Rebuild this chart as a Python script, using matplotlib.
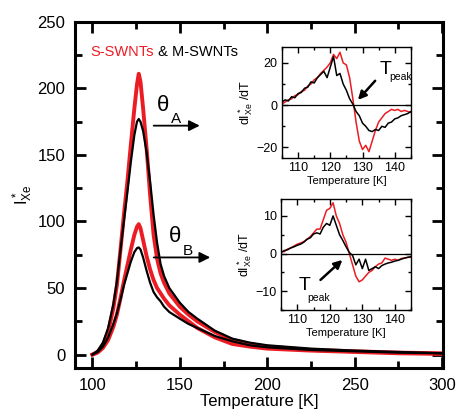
import numpy as np
import matplotlib
matplotlib.use("Agg")
import matplotlib.pyplot as plt
from matplotlib.ticker import MultipleLocator

plt.rcParams['font.family'] = ['Liberation Sans', 'DejaVu Sans']
plt.rcParams['mathtext.default'] = 'regular'

RED = "#ec1c24"

# основной график: температура и интенсивность
T_main = [100, 103, 106, 109, 112, 114, 116, 118, 120, 122, 124, 125.5, 126.5, 127.5,
          129, 131, 133, 135, 137, 139, 141, 144, 150, 155, 160, 170, 180, 190, 200,
          225, 250, 275, 300]
red_big = [0, 2, 7, 17, 35, 52, 78, 105, 130, 158, 185, 203, 211, 205,
           185, 155, 120, 90, 72, 61, 54, 46, 36, 30, 25, 17, 11, 8, 6,
           3.5, 2.5, 1.5, 1]
black_big = [0, 3, 9, 20, 38, 55, 78, 100, 122, 145, 165, 175, 177, 175,
             168, 152, 130, 105, 84, 68, 59, 50, 39, 32, 27, 18, 12, 9, 7,
             4.5, 3, 2, 1]
red_small = [0, 1.5, 5, 11, 21, 30, 42, 55, 67, 79, 90, 96, 98, 95,
             86, 74, 64, 56, 50, 46, 42, 37, 30, 25, 20, 13, 8, 6, 4.5,
             3, 2, 1, 0.5]
black_small = [0, 2, 6, 13, 23, 31, 41, 52, 61, 70, 77, 80, 80.5, 79,
               73, 63, 54, 47, 43, 40, 36, 32, 27, 23, 20, 14, 10, 7, 5.5,
               3.5, 2.5, 1.5, 1]

# вставки: производные dI/dT
T_ins = list(range(105, 146))
black_A = [1.5, 2.5, 2, 4, 3.5, 5.5, 6, 8, 8.5, 11, 10.5, 13, 14.5, 16, 13, 18, 23, 14, 15, 10,
           7, 3, 0.5, -3, -5, -8.5, -10, -12, -12.5, -11.5, -12, -10, -10.5, -8.5, -8, -6.5,
           -6, -5, -4.5, -4, -3]
red_A = [0.5, 1.5, 2.5, 3, 4.5, 5, 6.5, 7, 9, 10, 12, 13, 15, 16.5, 18, 20, 24, 22, 25, 20,
         19, 13, 3, -8, -17, -21, -19, -22, -17, -12, -8, -6, -4, -3, -2, -2.5,
         -2, -3, -2.5, -3, -3.5]
black_B = [0.3, 0.8, 1, 1.5, 1.8, 2.2, 2.5, 3, 3.8, 4.2, 5.2, 5.5, 5.2, 7, 8, 7.5, 10, 7.5, 5, 3.5,
           1.8, 0.3, -0.5, -3, -1.5, -4, -1.5, -4.5, -4, -3.5, -4, -3.2, -2.8, -2.5, -2.3, -2,
           -1.8, -1.5, -1.2, -1, -0.8]
red_B = [0.5, 0.5, 1.2, 1.5, 2, 2.5, 2.8, 3.2, 3.8, 4.5, 5.5, 6.5, 6.5, 9, 11.5, 12, 13.5, 10, 8, 5,
         3, 0, -3, -6, -7.5, -7, -6, -5, -4.5, -3.5, -2.8, -2.5, -1.2, -1.5, -1.8, -1.5,
         -1.8, -1.3, -1.2, -1, -1]

fig = plt.figure(figsize=(4.57, 4.12), dpi=100)
ax = fig.add_axes([0.164, 0.107, 0.805, 0.84])

ax.plot(T_main, red_big, color=RED, lw=2.8)
ax.plot(T_main, red_small, color=RED, lw=2.8)
ax.plot(T_main, black_big, color="black", lw=1.6)
ax.plot(T_main, black_small, color="black", lw=1.6)

ax.set_xlim(90, 300.5)
ax.set_ylim(-10, 250)
ax.xaxis.set_major_locator(MultipleLocator(50))
ax.xaxis.set_minor_locator(MultipleLocator(25))
ax.yaxis.set_major_locator(MultipleLocator(50))
ax.yaxis.set_minor_locator(MultipleLocator(25))
ax.tick_params(which="both", direction="in", top=True, right=True, width=2, labelsize=12, pad=7)
ax.tick_params(which="major", length=8)
ax.tick_params(which="minor", length=5)
for s in ax.spines.values():
    s.set_linewidth(2.2)
ax.set_xlabel("Temperature [K]", fontsize=12, labelpad=1)
ax.set_ylabel(r"$I^*_{Xe}$", fontsize=12, labelpad=2)

t1 = ax.text(0.041, 0.913, "S-SWNTs", color=RED, fontsize=10.5, transform=ax.transAxes, va="center")
ax.annotate(" & M-SWNTs", xy=(1, 0), xycoords=t1, va="bottom", fontsize=10.5, color="black")

# стрелки theta
ax.annotate("", xy=(163, 172), xytext=(133.5, 172),
            arrowprops=dict(arrowstyle="-|>", color="black", lw=1.3, mutation_scale=16))
ax.text(137, 187, "θ", fontsize=16, ha="left", va="center")
ax.text(145, 177, "A", fontsize=11, ha="left", va="center")
ax.annotate("", xy=(169, 73), xytext=(133.5, 73),
            arrowprops=dict(arrowstyle="-|>", color="black", lw=1.3, mutation_scale=16))
ax.text(143.5, 89, "θ", fontsize=16, ha="left", va="center")
ax.text(151.5, 78, "B", fontsize=11, ha="left", va="center")


def setup_inset(ia, ylim, ymaj, ymin):
    ia.axhline(0, color="black", lw=0.9)
    ia.set_xlim(105, 145)
    ia.set_ylim(*ylim)
    ia.xaxis.set_major_locator(MultipleLocator(10))
    ia.xaxis.set_minor_locator(MultipleLocator(5))
    ia.yaxis.set_major_locator(MultipleLocator(ymaj))
    ia.yaxis.set_minor_locator(MultipleLocator(ymin))
    ia.tick_params(which="both", direction="in", top=True, right=True, width=1, labelsize=9, pad=3)
    ia.tick_params(which="major", length=4)
    ia.tick_params(which="minor", length=2.5)
    for s in ia.spines.values():
        s.set_linewidth(1.0)
    ia.set_xlabel("Temperature [K]", fontsize=8, labelpad=1)
    ia.set_ylabel(r"$dI^*_{Xe}$ /dT", fontsize=9, labelpad=1)


ins1 = fig.add_axes([0.617, 0.6165, 0.282, 0.2694])
ins1.plot(T_ins, red_A, color=RED, lw=1.1)
ins1.plot(T_ins, black_A, color="black", lw=1.1)
setup_inset(ins1, (-25, 27.5), 20, 10)
ins1.annotate("", xy=(128, 1.5), xytext=(134.5, 12.5),
              arrowprops=dict(arrowstyle="-|>", color="black", lw=1.8, mutation_scale=12))
ins1.text(135.3, 17, "T", fontsize=14, va="center")
ins1.text(138.4, 13.2, "peak", fontsize=7.5, va="center")

ins2 = fig.add_axes([0.615, 0.2476, 0.2845, 0.2694])
ins2.plot(T_ins, red_B, color=RED, lw=1.1)
ins2.plot(T_ins, black_B, color="black", lw=1.1)
setup_inset(ins2, (-15, 14.5), 10, 5)
ins2.annotate("", xy=(124.5, -1.2), xytext=(116.5, -7.5),
              arrowprops=dict(arrowstyle="-|>", color="black", lw=1.8, mutation_scale=12))
ins2.text(110.3, -8.5, "T", fontsize=14, va="center")
ins2.text(113.2, -11.8, "peak", fontsize=7.5, va="center")

fig.savefig("out.png", dpi=100)
